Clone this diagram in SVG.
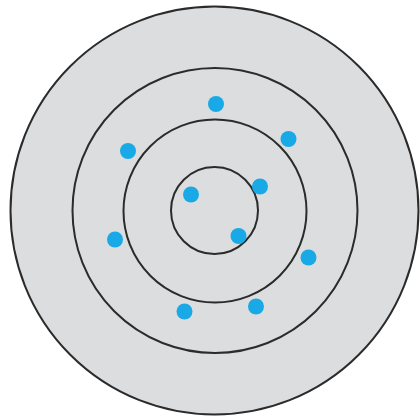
<svg xmlns="http://www.w3.org/2000/svg" width="420" height="416" viewBox="0 0 420 416">
<style>
.ring{fill:#dcdddf;stroke:#2b2b2b;stroke-width:2}
.dot{fill:#18a9e6}
</style>
<rect width="420" height="416" fill="#ffffff"/>
<g id="rings">
<circle class="ring" cx="214.5" cy="210.5" r="204"/>
<circle class="ring" cx="215" cy="210.5" r="142.5"/>
<circle class="ring" cx="215" cy="211" r="91.5"/>
<circle class="ring" cx="214.5" cy="210.5" r="43.5"/>
</g>
<g id="dots">
<circle class="dot" cx="216" cy="104" r="8"/>
<circle class="dot" cx="288.5" cy="139" r="8"/>
<circle class="dot" cx="128" cy="151" r="8"/>
<circle class="dot" cx="191" cy="194.5" r="8"/>
<circle class="dot" cx="260" cy="186.5" r="8"/>
<circle class="dot" cx="238.5" cy="236" r="8"/>
<circle class="dot" cx="115" cy="239.5" r="8"/>
<circle class="dot" cx="308.5" cy="257.5" r="8"/>
<circle class="dot" cx="256" cy="306.5" r="8"/>
<circle class="dot" cx="184.5" cy="311.5" r="8"/>
</g>
</svg>
